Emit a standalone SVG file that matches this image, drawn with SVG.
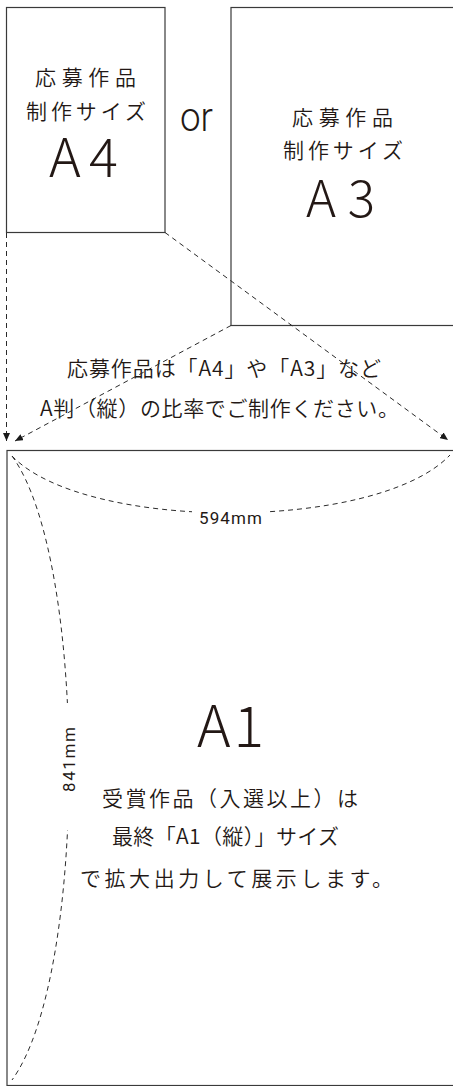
<svg xmlns="http://www.w3.org/2000/svg" width="453" height="1086" viewBox="0 0 453 1086">
<style>
.box{fill:none;stroke:#3a3a3a;stroke-width:1.2}
.dash{fill:none;stroke:#2a2a2a;stroke-width:1;stroke-dasharray:5 4}
.jp{font-family:"Noto Sans CJK JP","Noto Sans",sans-serif;font-weight:350;fill:#231815}
.big{font-family:"Noto Sans CJK JP","Noto Sans",sans-serif;font-weight:300;fill:#231815}
.dim{font-family:Roboto,"Noto Sans",sans-serif;font-weight:400;fill:#231815}
.or{font-family:Roboto,"Noto Sans",sans-serif;font-weight:300;fill:#231815}
</style>
<defs>
<marker id="ah" viewBox="0 0 8 7" refX="8" refY="3.5" markerWidth="8" markerHeight="7" markerUnits="userSpaceOnUse" orient="auto">
<path d="M0,0 L8,3.5 L0,7 Z" fill="#1a1a1a"/>
</marker>
<mask id="mh" maskUnits="userSpaceOnUse" x="0" y="0" width="453" height="1086">
<rect x="0" y="0" width="453" height="1086" fill="#fff"/>
<rect x="192" y="498" width="74" height="34" fill="#000"/>
</mask>
<mask id="mv" maskUnits="userSpaceOnUse" x="0" y="0" width="453" height="1086">
<rect x="0" y="0" width="453" height="1086" fill="#fff"/>
<rect x="48" y="703" width="40" height="127" fill="#000"/>
</mask>
</defs>

<g id="node-a4">
<rect class="box" x="6.5" y="7.5" width="158.5" height="225"/>
<text class="jp" x="35" y="84.5" font-size="21" textLength="101" lengthAdjust="spacing">応募作品</text>
<text class="jp" x="26" y="118.5" font-size="21" textLength="120" lengthAdjust="spacing">制作サイズ</text>
<text class="big" x="49" y="177" font-size="54" textLength="69" lengthAdjust="spacing">A4</text>
</g>

<g id="node-or">
<text class="or" x="180" y="131" font-size="40" textLength="33" lengthAdjust="spacingAndGlyphs">or</text>
</g>

<g id="node-a3">
<rect class="box" x="231" y="7.5" width="226" height="318"/>
<text class="jp" x="292" y="124.5" font-size="21" textLength="101" lengthAdjust="spacing">応募作品</text>
<text class="jp" x="283" y="157.5" font-size="21" textLength="120" lengthAdjust="spacing">制作サイズ</text>
<text class="big" x="306" y="217" font-size="51" textLength="69" lengthAdjust="spacing">A3</text>
</g>

<g id="node-note">
<text class="jp" x="67" y="375.5" font-size="21" textLength="314" lengthAdjust="spacing">応募作品は「A4」や「A3」など</text>
<text class="jp" x="40" y="415.5" font-size="21" textLength="359" lengthAdjust="spacing">A判（縦）の比率でご制作ください。</text>
</g>

<g id="node-a1">
<rect class="box" x="7" y="450.5" width="449" height="635"/>
<text class="big" x="197" y="747" font-size="57" textLength="67" lengthAdjust="spacing">A1</text>
<text class="jp" x="102" y="805.5" font-size="21" textLength="256" lengthAdjust="spacing">受賞作品（入選以上）は</text>
<text class="jp" x="112" y="844" font-size="21" textLength="227" lengthAdjust="spacing">最終「A1（縦）」サイズ</text>
<text class="jp" x="80" y="886" font-size="21" textLength="313" lengthAdjust="spacing">で拡大出力して展示します。</text>
</g>

<g id="connectors">
<line class="dash" x1="6.5" y1="233" x2="6.5" y2="441" marker-end="url(#ah)"/>
<line class="dash" x1="231" y1="325.5" x2="15" y2="441" marker-end="url(#ah)"/>
<line class="dash" x1="165" y1="232.5" x2="448" y2="440" marker-end="url(#ah)"/>
<path class="dash" d="M12,456 C85,532 377,532 450,455" mask="url(#mh)"/>
<path class="dash" d="M12,456 C88,560 88,976 12,1080" mask="url(#mv)"/>
</g>

<g id="labels">
<text class="dim" x="199" y="524" font-size="17" textLength="63" lengthAdjust="spacing">594mm</text>
<text class="dim" transform="translate(75,792) rotate(-90)" x="0" y="0" font-size="17" textLength="65" lengthAdjust="spacing">841mm</text>
</g>
</svg>
